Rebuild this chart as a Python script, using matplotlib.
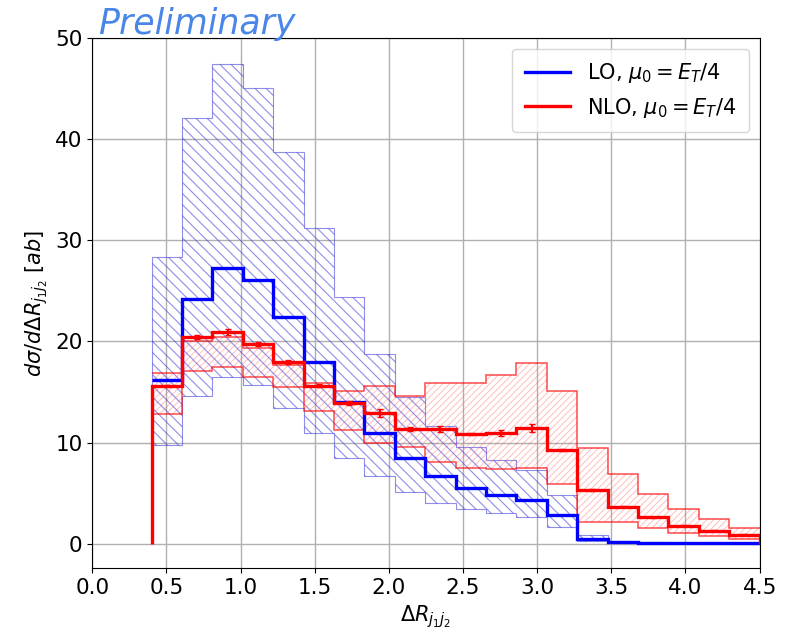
import numpy as np
import matplotlib.pyplot as plt

#bin edges in Delta R_j1j2
edges = [0.4, 0.605, 0.81, 1.015, 1.22, 1.425, 1.63, 1.835, 2.04, 2.245, 2.45,
         2.655, 2.86, 3.065, 3.27, 3.475, 3.68, 3.885, 4.09, 4.295, 4.5]

#LO, mu0 = E_T/4 (central + scale band)
lo = [16.2, 24.2, 27.3, 26.1, 22.4, 18.0, 14.0, 10.9, 8.5, 6.7,
      5.5, 4.8, 4.3, 2.8, 0.45, 0.12, 0.05, 0.04, 0.03, 0.02]
lo_up = [28.4, 42.1, 47.5, 45.1, 38.7, 31.2, 24.4, 18.8, 14.5, 11.6,
         9.6, 8.3, 7.3, 4.8, 0.8, 0.3, 0.15, 0.1, 0.08, 0.05]
lo_dn = [9.8, 14.6, 16.5, 15.7, 13.4, 10.9, 8.5, 6.7, 5.1, 4.05,
         3.4, 3.0, 2.6, 1.6, 0.3, 0.05, 0.02, 0.01, 0.01, 0.0]

#NLO, mu0 = E_T/4 (central + scale band + MC errors)
nlo = [15.6, 20.4, 20.9, 19.75, 18.0, 15.6, 13.9, 12.9, 11.35, 11.35,
       10.85, 10.9, 11.45, 9.3, 5.3, 3.65, 2.6, 1.75, 1.25, 0.85]
nlo_up = [16.9, 20.0, 20.4, 19.4, 17.7, 15.9, 15.05, 15.6, 14.6, 15.9,
          15.9, 16.7, 17.9, 15.05, 9.5, 6.85, 4.9, 3.45, 2.4, 1.5]
nlo_dn = [12.8, 17.1, 17.5, 16.5, 15.5, 13.1, 11.2, 10.0, 9.6, 8.1,
          7.5, 7.4, 7.5, 5.9, 2.15, 2.1, 1.5, 1.0, 0.7, 0.45]
nlo_err = [0.1, 0.2, 0.3, 0.2, 0.2, 0.15, 0.2, 0.4, 0.2, 0.3,
           0.1, 0.3, 0.4, 0.1, 0.1, 0.05, 0.05, 0.05, 0.05, 0.05]

plt.rcParams['hatch.linewidth'] = 0.8

fig = plt.figure(figsize=(7.88, 6.38), dpi=100)
ax = fig.add_axes([0.117, 0.11, 0.847, 0.83])

#blue band
ax.stairs(lo_up, edges, baseline=lo_dn, fill=True, facecolor='none',
          edgecolor=(0.2, 0.2, 0.85, 0.55), hatch='\\\\\\', linewidth=0.8)
#red band
ax.stairs(nlo_up, edges, baseline=nlo_dn, fill=True, facecolor='none',
          edgecolor=(1.0, 0.35, 0.35, 0.35), hatch='/////', linewidth=0)
ax.stairs(nlo_up, edges, baseline=None, color='red', alpha=0.7, linewidth=1.1)
ax.stairs(nlo_dn, edges, baseline=None, color='red', alpha=0.7, linewidth=1.1)

#central lines
ax.stairs(lo, edges, baseline=None, color='blue', linewidth=2.4,
          label=r'LO, $\mu_0 = E_T/4$')
ax.stairs(nlo, edges, baseline=0, color='red', linewidth=2.4,
          label=r'NLO, $\mu_0 = E_T/4$')

centers = [(edges[i] + edges[i + 1]) / 2 for i in range(len(nlo))]
ax.errorbar(centers, nlo, yerr=nlo_err, fmt='none', ecolor='red',
            elinewidth=1.5, capsize=2)

ax.set_xlim(0, 4.5)
ax.set_ylim(-2.4, 50)
ax.set_xticks(np.arange(0, 4.51, 0.5))
ax.set_yticks([0, 10, 20, 30, 40, 50])
ax.tick_params(labelsize=15.5)
ax.grid(True, color='#b0b0b0', linewidth=1)
ax.set_axisbelow(True)

ax.set_xlabel(r'$\Delta R_{j_1 j_2}$', fontsize=15)
ax.set_ylabel(r'$d\sigma/d\Delta R_{j_1 j_2}$ $[ab]$', fontsize=15)
ax.legend(loc='upper right', fontsize=15, handlelength=2.2, borderpad=0.6)

fig.text(0.125, 0.962, 'Preliminary', color='#4a86e8', fontsize=25,
         style='italic', family='DejaVu Sans', va='center')

fig.savefig('out.png')
